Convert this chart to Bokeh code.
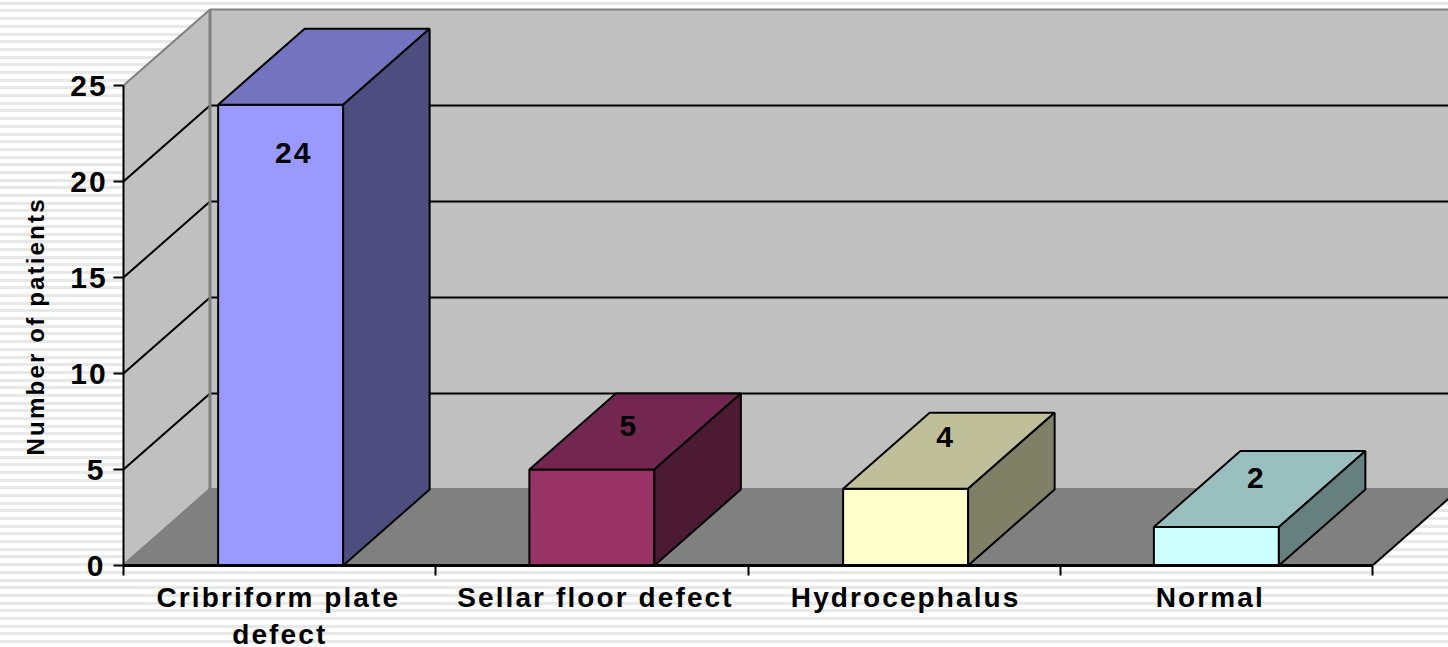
from bokeh.plotting import figure
from bokeh.models import FixedTicker, Range1d, LinearAxis, ColumnDataSource, Title
from bokeh.core.properties import value
from bokeh.embed import file_html
from bokeh.resources import INLINE

categories = ["Cribriform plate\n\u00a0\u00a0defect", "Sellar floor defect", "Hydrocephalus", "Normal"]
patients = [24, 5, 4, 2]
y_ticks = [0, 5, 10, 15, 20, 25]
y_title = "Number of patients"

front_colors = ["#9999FF", "#993366", "#FFFFCC", "#CCFFFF"]
top_colors = ["#7373BF", "#732650", "#BFBF99", "#99BFBF"]
side_colors = ["#4D4D80", "#4D1A33", "#808066", "#668080"]
label_dx_px = [11, 36, 39, 39]
label_dy_px = [48, -44, -52, -49]
cat_label_px = [261, 575, 891.5, 1203.5]
bar_shift_px = [1, 0, 1.5, 0]

W, H = 1448, 647
left, base = 123, 565
px_x = 312.25
px_y = 19.2
dx = 86.5 / px_x
dy = 76 / px_y
bw = 125 / px_x
centers = [i + 0.5 + s / px_x for i, s in enumerate(bar_shift_px)]
ymax = y_ticks[-1]
LW = 2

p = figure(width=W, height=H, output_backend="svg", toolbar_location=None,
           frame_width=W - left, frame_height=base,
           min_border_left=left, min_border_right=0, min_border_top=0, min_border_bottom=H - base,
           x_range=Range1d(0, (W - left) / px_x), y_range=Range1d(0, base / px_y),
           x_axis_type=None, y_axis_type=None, outline_line_color=None,
           border_fill_alpha=0, background_fill_alpha=0,
           styles={"letter-spacing": "2.1px",
                   "background": "repeating-linear-gradient(180deg,#fff 0,#fff 1.8px,#e8e8e8 1.8px,#e8e8e8 4.8px,#fff 4.8px,#fff 7.69px)"})
p.grid.visible = False

n = len(patients)
# walls and floor
p.patch([0, dx, dx, 0], [0, dy, ymax + dy, ymax], fill_color="#C0C0C0", line_color=None)
p.patch([dx, n + dx + 1, n + dx + 1, dx], [dy, dy, ymax + dy, ymax + dy], fill_color="#C0C0C0", line_color=None)
p.patch([0, n, n + dx, dx], [0, 0, dy, dy], fill_color="#808080", line_color=None)
# grid
grid_vals = y_ticks[1:-1]
p.multi_line([[0, dx, n + dx + 1] for _ in grid_vals], [[v, v + dy, v + dy] for v in grid_vals],
             line_color="black", line_width=LW)
p.line([0, dx, n + dx + 1], [ymax, ymax + dy, ymax + dy], line_color="#808080", line_width=2)
p.line([dx, dx], [dy, ymax + dy], line_color="#808080", line_width=3)
p.line([0, dx, n + dx + 1], [0, dy, dy], line_color="#808080", line_width=3)
p.line([n, n + dx], [0, dy], line_color="black", line_width=LW)

# bars
for c, v, f, t, s in zip(centers, patients, front_colors, top_colors, side_colors):
    x0, x1 = c - bw / 2, c + bw / 2
    p.patch([x0, x1, x1, x0], [0, 0, v, v], fill_color=f, line_color="black", line_width=LW)
    p.patch([x0, x1, x1 + dx, x0 + dx], [v, v, v + dy, v + dy], fill_color=t, line_color="black", line_width=LW)
    p.patch([x1, x1 + dx, x1 + dx, x1], [0, dy, v + dy, v], fill_color=s, line_color="black", line_width=LW)

src = ColumnDataSource(dict(x=centers, y=patients, t=[str(v) for v in patients],
                            ox=label_dx_px, oy=label_dy_px))
p.text(x="x", y="y", text="t", source=src, x_offset="ox", y_offset="oy",
       text_align="center", text_baseline="middle", text_color="black",
       text_font=value("Liberation Sans"), text_font_style="bold", text_font_size="30px")

ya = LinearAxis(ticker=FixedTicker(ticks=y_ticks), bounds=(0, y_ticks[-1]),
                axis_line_color="black", axis_line_width=LW,
                major_tick_in=0, major_tick_out=10, major_tick_line_width=LW, minor_tick_line_color=None,
                major_label_text_font="Liberation Sans", major_label_text_font_style="bold",
                major_label_text_font_size="30px", major_label_standoff=10, major_label_text_color="black")
p.add_layout(ya, "left")
p.add_layout(Title(text=y_title, align="left", offset=110, standoff=38, text_color="black",
                   text_font="Liberation Sans", text_font_style="bold", text_font_size="24.2px"), "left")

label_ticks = [(v - left) / px_x for v in cat_label_px]
xa = LinearAxis(ticker=FixedTicker(ticks=label_ticks, minor_ticks=list(range(n + 1))),
                bounds=(0, n), axis_line_color="black", axis_line_width=3,
                major_tick_line_color=None, major_tick_in=0, major_tick_out=0,
                minor_tick_in=0, minor_tick_out=10, minor_tick_line_width=LW,
                major_label_overrides={t: c for t, c in zip(label_ticks, categories)},
                major_label_text_font="Liberation Sans", major_label_text_font_style="bold",
                major_label_text_font_size="28px", major_label_standoff=6, major_label_text_color="black")
p.add_layout(xa, "below")

open("out.html", "w").write(file_html(p, INLINE))
